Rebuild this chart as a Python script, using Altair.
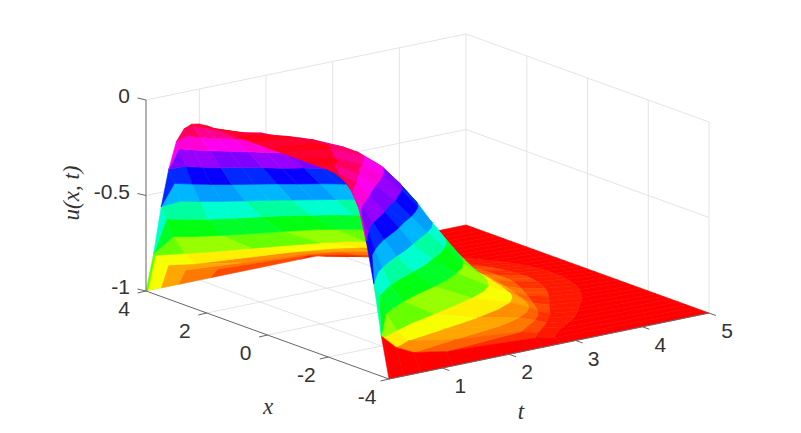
import colorsys
import altair as alt

# Surface read from the picture as height bands: for each height above the floor (u + 1)
# and each x (mirrored for negative x), the distance along the t axis where the surface crosses it.
X_HALF = [0, .25, .5, .75, 1, 1.25, 1.5, 1.75, 2, 2.25, 2.5, 2.75, 3, 3.25, 3.5, 3.75]
FIRST_EDGE = [.98, .98, .98, .98, .98, .98, .98, .98, .98, .975, .96, .92, .84, .68, .47, .21]
LEVELS = [.95, .88, .8, .7, .6, .5, .4, .3, .2, .135, .09, .06, .035, .015]
CROSSING = [
 [.83,.83,.75,.67,.55,.5,.33,.25,.15,.07,.02,0,0,0,0,0],
 [1.3,1.3,1.25,1.15,1,.83,.72,.56,.44,.27,.14,.05,0,0,0,0],
 [1.6,1.6,1.56,1.46,1.32,1.16,.97,.8,.64,.47,.29,.15,.04,0,0,0],
 [1.86,1.86,1.82,1.75,1.62,1.44,1.28,1.05,.88,.67,.46,.29,.15,0,0,0],
 [2.07,2.07,2.04,1.98,1.88,1.72,1.53,1.3,1.1,.87,.63,.43,.25,.09,0,0],
 [2.25,2.25,2.21,2.17,2.1,1.97,1.78,1.55,1.32,1.1,.83,.59,.37,.18,0,0],
 [2.43,2.43,2.41,2.37,2.31,2.2,2.05,1.87,1.62,1.38,1.08,.77,.49,.28,.08,0],
 [2.61,2.61,2.6,2.57,2.53,2.45,2.34,2.21,2,1.75,1.42,1.03,.7,.42,.19,0],
 [2.84,2.84,2.82,2.8,2.78,2.74,2.69,2.61,2.5,2.31,2,1.6,1.17,.7,.36,.03],
 [3.07,3.07,3.06,3.05,3.03,2.98,2.95,2.9,2.85,2.75,2.6,2.3,1.85,1.2,.53,.23],
 [3.33,3.33,3.3,3.27,3.23,3.19,3.15,3.1,3.05,2.98,2.9,2.75,2.5,2.1,1.25,.5],
 [3.62,3.62,3.6,3.55,3.49,3.42,3.35,3.28,3.2,3.12,3.03,2.92,2.75,2.52,2.3,1],
 [4,4,3.97,3.92,3.86,3.78,3.68,3.57,3.45,3.34,3.22,3.08,2.93,2.75,2.56,2.4],
 [4.47,4.47,4.44,4.4,4.35,4.28,4.18,4.08,3.95,3.8,3.66,3.5,3.3,3.05,2.85,2.7],
]
T0, T1 = 0.2, 5.0
T_UNIT = 0.96
X_TICKS = [4, 2, 0, -2, -4]
T_TICKS = [1, 2, 3, 4, 5]
Z_TICKS = [0, -0.5, -1]
Z_LABELS = ["0", "-0.5", "-1"]
X_LABELS = ["4", "2", "0", "-2", "-4"]
T_LABELS = ["1", "2", "3", "4", "5"]


def proj(x, t, u):
    """Orthographic 3-D view, returns pixel position in the page."""
    a, b = (4 - x) / 8, (t - T0) / (T1 - T0)
    return (146 + 243 * a + 320 * b, 291 + 88 * a - 66 * b - 191 * (u + 1))


def local(p):
    return [p[0] - 8, p[1] - 8]


# full table: one row per ring from the t = T0 edge out to the far floor edge
half_rows = [[0.0] * len(X_HALF)] + CROSSING + [[5.0] * len(X_HALF)]
half_lv = [1.0] + LEVELS + [0.0]
xs = [-4.0] + [-v for v in X_HALF[:0:-1]] + X_HALF + [4.0]


def vertex(k, i):
    x = xs[i]
    if abs(x) == 4:
        j = len(X_HALF) - 1
        return (x, T0 + T_UNIT * half_rows[k][j], -1.0)
    j = X_HALF.index(abs(x))
    edge = FIRST_EDGE[j]
    return (x, T0 + T_UNIT * half_rows[k][j], min(half_lv[k], edge) - 1)


RIPPLE = [-0.012, 0.012]
cells = []
for k in range(len(half_rows) - 1):
    upper, lower = half_lv[k], half_lv[k + 1]
    mid = 0.97 if k == 0 else (upper + lower) / 2
    if k == len(half_rows) - 2:
        mid = 0.0
    for i in range(len(xs) - 1):
        corners = [vertex(k, i), vertex(k, i + 1), vertex(k + 1, i + 1), vertex(k + 1, i), vertex(k, i)]
        if len({c[:2] for c in corners}) < 3:
            continue
        value = 0.0 if i == 0 else mid + RIPPLE[(i // 2) % 2] * min(1, mid * 4)
        cx = sum(c[0] for c in corners[:4]) / 4
        ct = sum(c[1] for c in corners[:4]) / 4
        depth = 66 * (ct - T0) / (T1 - T0) - 88 * (4 - cx) / 8
        ring = [local(proj(*c)) for c in corners]
        cells.append((depth, {"type": "Feature", "properties": {"u": value - 1},
                              "geometry": {"type": "Polygon", "coordinates": [ring]}}))
cells.sort(key=lambda c: -c[0])
cells = [c[1] for c in cells]

hsv64 = []
for k in range(64):
    r, g, b = colorsys.hsv_to_rgb(k / 64, 1, 1)
    hsv64.append("#%02x%02x%02x" % (round(r * 255), round(g * 255), round(b * 255)))


def line_features(segs):
    return [{"type": "Feature", "properties": {},
             "geometry": {"type": "LineString", "coordinates": [local(a), local(b)]}} for a, b in segs]


def fc(features):
    return alt.Data(values={"type": "FeatureCollection", "features": features},
                    format=alt.DataFormat(property="features", type="json"))


grid = []
for u in [0, -0.5]:
    grid.append((proj(4, T0, u), proj(4, T1, u)))
    grid.append((proj(4, T1, u), proj(-4, T1, u)))
for t in T_TICKS:
    grid.append((proj(4, t, -1), proj(4, t, 0)))
    if t < 5:
        grid.append((proj(4, t, -1), proj(-4, t, -1)))
for x in [2, 0, -2, -4]:
    grid.append((proj(x, T1, -1), proj(x, T1, 0)))
for x in [2, 0, -2]:
    grid.append((proj(x, T0, -1), proj(x, T1, -1)))
grid.append((proj(4, T1, -1), proj(-4, T1, -1)))
grid.append((proj(4, T1, -1), proj(4, T0, -1)))

axes_lines = [(proj(4, T0, -1), proj(-4, T0, -1)), (proj(-4, T0, -1), proj(-4, T1, -1)),
              (proj(4, T0, -1), proj(4, T0, 0))]
ticks = []
for x in X_TICKS:
    p = proj(x, T0, -1)
    ticks.append((p, (p[0] - 8.5, p[1] + 2)))
for t in T_TICKS:
    p = proj(-4, t, -1)
    ticks.append((p, (p[0] + 7, p[1] + 2.5)))
for u in Z_TICKS:
    p = proj(4, T0, u)
    ticks.append((p, (p[0] - 8.5, p[1] - 2)))

labels = []
for x, s in zip(X_TICKS, X_LABELS):
    p = proj(x, T0, -1)
    labels.append({"s": s, "px": p[0] - 22, "py": p[1] + 19})
for t, s in zip(T_TICKS, T_LABELS):
    p = proj(-4, t, -1)
    labels.append({"s": s, "px": p[0] + 18, "py": p[1] + 19})
z_labels = []
for u, s in zip(Z_TICKS, Z_LABELS):
    p = proj(4, T0, u)
    z_labels.append({"s": s, "px": p[0] - 16, "py": p[1] - 3})

x_scale = alt.Scale(domain=[8, 793])
y_scale = alt.Scale(domain=[425, 8])
PROJ = dict(type="identity", scale=1, translate=[0, 0])


def geo_lines(segs, color, width):
    return (alt.Chart(fc(line_features(segs))).mark_geoshape(filled=False, stroke=color, strokeWidth=width)
            .project(**PROJ))


color_scale = alt.Scale(type="quantize", domain=[-1, -0.02], range=hsv64)
surface = (alt.Chart(fc(cells)).mark_geoshape(strokeWidth=0.6)
           .encode(fill=alt.Fill("properties.u:Q", scale=color_scale, legend=None),
                   stroke=alt.Stroke("properties.u:Q", scale=color_scale, legend=None))
           .project(**PROJ))

enc = dict(x=alt.X("px:Q", scale=x_scale, axis=None), y=alt.Y("py:Q", scale=y_scale, axis=None), text="s:N")
tick_text = (alt.Chart(alt.Data(values=labels))
             .mark_text(font="Liberation Sans", fontSize=21, color="#333333", align="center", baseline="middle")
             .encode(**enc))
z_text = (alt.Chart(alt.Data(values=z_labels))
          .mark_text(font="Liberation Sans", fontSize=21, color="#333333", align="right", baseline="middle")
          .encode(**enc))
title_font = dict(font="Liberation Serif", fontStyle="italic", fontSize=23, color="#333333",
                  align="center", baseline="middle")
titles = (alt.Chart(alt.Data(values=[{"s": "x", "px": 268, "py": 407}, {"s": "t", "px": 521, "py": 412}]))
          .mark_text(**title_font).encode(**enc))
z_title = (alt.Chart(alt.Data(values=[{"s": "u(x, t)", "px": 72, "py": 193}]))
           .mark_text(angle=270, **title_font).encode(**enc))

chart = (alt.layer(geo_lines(grid, "#e4e4e4", 1), surface, geo_lines(axes_lines + ticks, "#666666", 1),
                   tick_text, z_text, titles, z_title)
         .resolve_scale(x="shared", y="shared")
         .properties(width=785, height=417, padding=0, autosize="none")
         .configure_view(stroke=None))
chart.save("out.html", embed_options={"renderer": "svg", "actions": False})
